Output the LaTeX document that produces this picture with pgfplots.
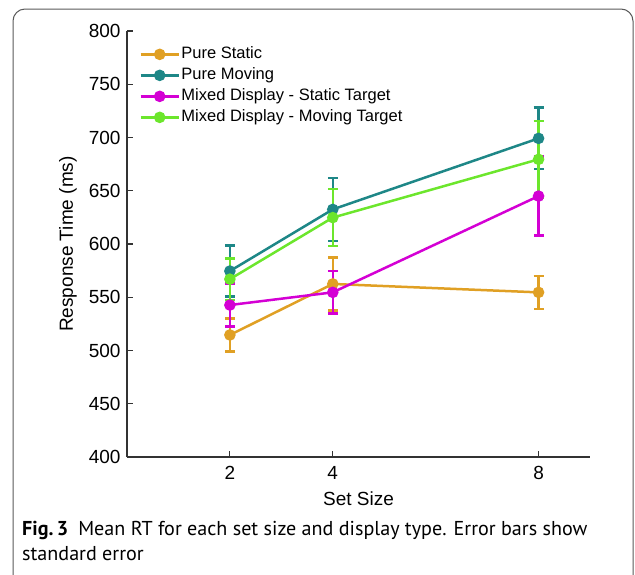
\documentclass[border=0pt]{standalone}
\usepackage{pgfplots}
\pgfplotsset{compat=1.18}
\usepackage{fontspec}
\setmainfont{Liberation Sans}
\newfontfamily\capfont{PT Sans}

\definecolor{cstat}{RGB}{224,160,36}
\definecolor{cmov}{RGB}{30,135,135}
\definecolor{cmixs}{RGB}{212,0,212}
\definecolor{cmixm}{RGB}{108,230,44}

% set size, mean RT, standard error
\pgfplotstableread{
x y e
2 514.6 15.6
4 562.5 25.0
8 554.6 15.5
}\purestatic
\pgfplotstableread{
x y e
2 574.6 24.1
4 632.5 29.5
8 699.2 29.0
}\puremoving
\pgfplotstableread{
x y e
2 542.7 20.3
4 554.6 20.0
8 645.0 37.0
}\mixedstatic
\pgfplotstableread{
x y e
2 567.0 19.5
4 624.8 26.7
8 679.5 36.0
}\mixedmoving

\begin{document}
\begin{tikzpicture}
\useasboundingbox (0pt,0pt) rectangle (635pt,-574pt);
\draw[black!65, line width=1pt, rounded corners=12pt] (13pt,-9pt) rectangle (633pt,-620pt);

\begin{axis}[
    at={(127pt,-457pt)}, anchor=south west,
    scale only axis, width=463pt, height=426pt,
    xmin=0, xmax=9, ymin=400, ymax=800,
    xtick={2,4,8}, ytick={400,450,...,800},
    axis lines*=left,
    axis line style={black!80, line width=1.2pt},
    major tick style={black!80, line width=1.2pt},
    major tick length=6pt,
    /pgf/number format/assume math mode=true,
    tick label style={font=\fontsize{19}{22}\selectfont},
    yticklabel style={xshift=-3pt},
    xticklabel style={yshift=-6pt},
    xlabel={Set Size}, ylabel={Response Time (ms)},
    label style={font=\fontsize{19}{22}\selectfont},
    xlabel style={yshift=-5pt},
    ylabel style={yshift=5pt},
    legend style={at={(0.02,0.975)}, anchor=north west, draw=none, fill=none,
        font=\fontsize{16.5}{19}\selectfont, row sep=0pt,
        nodes={inner sep=1.5pt, text height=13pt, text depth=5pt}},
    legend cell align=left,
    legend image code/.code={\draw[mark repeat=2,mark phase=2] plot coordinates {(0pt,0pt)(19pt,0pt)(38pt,0pt)};},
    every axis plot/.append style={line width=2.5pt, mark=*, mark size=4.5pt},
    error bars/y dir=both, error bars/y explicit,
    error bars/error bar style={line width=2.5pt},
    error bars/error mark options={rotate=90, mark size=5pt, line width=2.5pt},
]
\addplot[color=cstat] table[x=x, y=y, y error=e] {\purestatic};
\addplot[color=cmov] table[x=x, y=y, y error=e] {\puremoving};
\addplot[color=cmixs] table[x=x, y=y, y error=e] {\mixedstatic};
\addplot[color=cmixm] table[x=x, y=y, y error=e] {\mixedmoving};
\legend{Pure Static, Pure Moving, Mixed Display - Static Target, Mixed Display - Moving Target}
\end{axis}

\node[anchor=base west, inner sep=0pt, font=\capfont\fontsize{20.1}{24}\selectfont] at (22pt,-535pt)
    {\textbf{Fig.\,3}\enspace Mean RT for each set size and display type. Error bars show};
\node[anchor=base west, inner sep=0pt, font=\capfont\fontsize{20.1}{24}\selectfont] at (22pt,-560pt)
    {standard error};
\end{tikzpicture}
\end{document}
